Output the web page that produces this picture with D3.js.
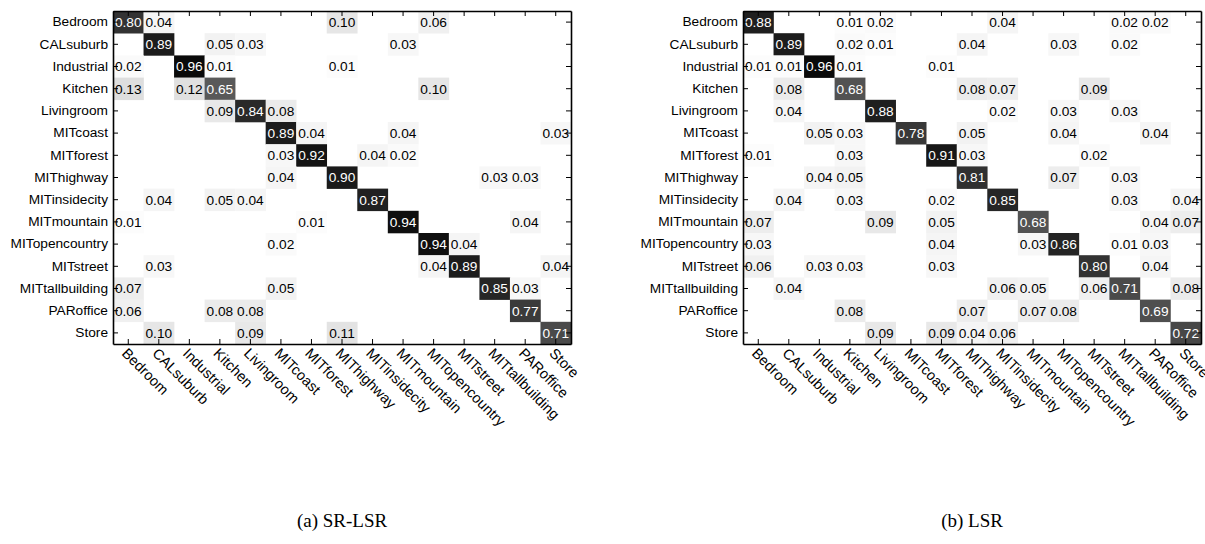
<!DOCTYPE html>
<html>
<head>
<meta charset="utf-8">
<script src="https://cdn.jsdelivr.net/npm/d3@7"></script>
<style>
  html, body { margin: 0; padding: 0; background: #fff; }
  svg { display: block; }
  .lbl { font-family: "Liberation Sans", Arial, Helvetica, sans-serif; font-size: 13.7px; }
  .xl { font-family: "Liberation Sans", Arial, Helvetica, sans-serif; font-size: 14.5px; }
  .cap { font-family: "Liberation Serif", "Times New Roman", serif; font-size: 19px; }
</style>
</head>
<body>
<svg id="chart" width="1205" height="544"></svg>
<script>
const categories = ["Bedroom","CALsuburb","Industrial","Kitchen","Livingroom","MITcoast","MITforest","MIThighway","MITinsidecity","MITmountain","MITopencountry","MITstreet","MITtallbuilding","PARoffice","Store"];

const srlsrRows = [
  [0.80,0.04,0,0,0,0,0,0.10,0,0,0.06,0,0,0,0],
  [0,0.89,0,0.05,0.03,0,0,0,0,0.03,0,0,0,0,0],
  [0.02,0,0.96,0.01,0,0,0,0.01,0,0,0,0,0,0,0],
  [0.13,0,0.12,0.65,0,0,0,0,0,0,0.10,0,0,0,0],
  [0,0,0,0.09,0.84,0.08,0,0,0,0,0,0,0,0,0],
  [0,0,0,0,0,0.89,0.04,0,0,0.04,0,0,0,0,0.03],
  [0,0,0,0,0,0.03,0.92,0,0.04,0.02,0,0,0,0,0],
  [0,0,0,0,0,0.04,0,0.90,0,0,0,0,0.03,0.03,0],
  [0,0.04,0,0.05,0.04,0,0,0,0.87,0,0,0,0,0,0],
  [0.01,0,0,0,0,0,0.01,0,0,0.94,0,0,0,0.04,0],
  [0,0,0,0,0,0.02,0,0,0,0,0.94,0.04,0,0,0],
  [0,0.03,0,0,0,0,0,0,0,0,0.04,0.89,0,0,0.04],
  [0.07,0,0,0,0,0.05,0,0,0,0,0,0,0.85,0.03,0],
  [0.06,0,0,0.08,0.08,0,0,0,0,0,0,0,0,0.77,0],
  [0,0.10,0,0,0.09,0,0,0.11,0,0,0,0,0,0,0.71]
];

const lsrRows = [
  [0.88,0,0,0.01,0.02,0,0,0,0.04,0,0,0,0.02,0.02,0],
  [0,0.89,0,0.02,0.01,0,0,0.04,0,0,0.03,0,0.02,0,0],
  [0.01,0.01,0.96,0.01,0,0,0.01,0,0,0,0,0,0,0,0],
  [0,0.08,0,0.68,0,0,0,0.08,0.07,0,0,0.09,0,0,0],
  [0,0.04,0,0,0.88,0,0,0,0.02,0,0.03,0,0.03,0,0],
  [0,0,0.05,0.03,0,0.78,0,0.05,0,0,0.04,0,0,0.04,0],
  [0.01,0,0,0.03,0,0,0.91,0.03,0,0,0,0.02,0,0,0],
  [0,0,0.04,0.05,0,0,0,0.81,0,0,0.07,0,0.03,0,0],
  [0,0.04,0,0.03,0,0,0.02,0,0.85,0,0,0,0.03,0,0.04],
  [0.07,0,0,0,0.09,0,0.05,0,0,0.68,0,0,0,0.04,0.07],
  [0.03,0,0,0,0,0,0.04,0,0,0.03,0.86,0,0.01,0.03,0],
  [0.06,0,0.03,0.03,0,0,0.03,0,0,0,0,0.80,0,0.04,0],
  [0,0.04,0,0,0,0,0,0,0.06,0.05,0,0.06,0.71,0,0.08],
  [0,0,0,0.08,0,0,0,0.07,0,0.07,0.08,0,0,0.69,0],
  [0,0,0,0,0.09,0,0.09,0.04,0.06,0,0,0,0,0,0.72]
];

const captions = ["(a) SR-LSR", "(b) LSR"];

const svg = d3.select("#chart");
const fmt = d3.format(".2f");
const gray = d3.scaleLinear().domain([0, 1]).range(["#ffffff", "#000000"]);

function drawMatrix(rows, caption, left) {
  const top = 11, w = 458, h = 333;
  const g = svg.append("g").attr("transform", `translate(${left},${top})`);
  const x = d3.scaleBand().domain(categories).range([0, w]);
  const y = d3.scaleBand().domain(categories).range([0, h]);

  const cells = [];
  rows.forEach((r, i) => r.forEach((v, j) => { if (v > 0) cells.push({ row: categories[i], col: categories[j], v }); }));

  g.selectAll("rect.cell").data(cells).join("rect")
    .attr("class", "cell")
    .attr("x", d => x(d.col))
    .attr("y", d => y(d.row))
    .attr("width", x.bandwidth() + 0.3)
    .attr("height", y.bandwidth() + 0.3)
    .attr("fill", d => gray(d.v));

  g.selectAll("text.val").data(cells).join("text")
    .attr("class", "val lbl")
    .attr("x", d => x(d.col) + x.bandwidth() / 2)
    .attr("y", d => y(d.row) + y.bandwidth() / 2)
    .attr("dy", "0.36em")
    .attr("text-anchor", "middle")
    .attr("fill", d => d.v > 0.5 ? "#fff" : "#000")
    .text(d => fmt(d.v));

  const styleAxis = sel => {
    sel.attr("font-size", null).attr("font-family", null);
    sel.selectAll(".domain").attr("stroke", "#000").attr("stroke-width", 1.6);
    sel.selectAll(".tick line").attr("stroke", "#000").attr("stroke-width", 1);
  };

  const ya = g.append("g").call(d3.axisLeft(y).tickSize(-5).tickSizeOuter(0).tickPadding(5));
  ya.selectAll("text").attr("class", "lbl").attr("fill", "#000");
  styleAxis(ya);

  const yr = g.append("g").attr("transform", `translate(${w},0)`)
    .call(d3.axisRight(y).tickSize(-5).tickSizeOuter(0).tickFormat(""));
  styleAxis(yr);

  const xt = g.append("g").call(d3.axisTop(x).tickSize(-5).tickSizeOuter(0).tickFormat(""));
  styleAxis(xt);

  const xb = g.append("g").attr("transform", `translate(0,${h})`)
    .call(d3.axisBottom(x).tickSize(-5).tickSizeOuter(0));
  xb.selectAll("text")
    .attr("class", "xl")
    .attr("fill", "#000")
    .attr("text-anchor", "start")
    .attr("x", 0).attr("y", 0)
    .attr("dy", "0.71em")
    .attr("transform", "translate(0,3) rotate(45)");
  styleAxis(xb);

  svg.append("text")
    .attr("class", "cap")
    .attr("x", left + w / 2)
    .attr("y", 527)
    .attr("text-anchor", "middle")
    .attr("fill", "#000")
    .text(caption);
}

drawMatrix(srlsrRows, captions[0], 113);
drawMatrix(lsrRows, captions[1], 743);
</script>
</body>
</html>
